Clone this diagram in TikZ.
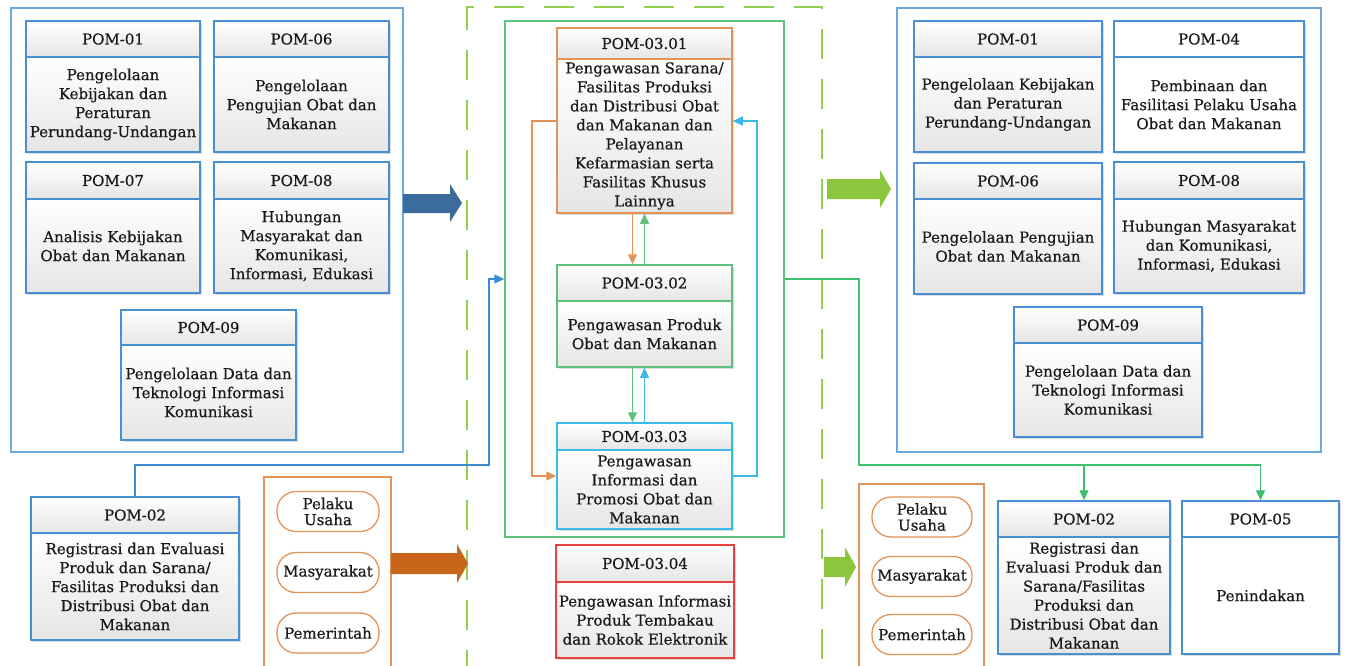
\documentclass[tikz,border=0pt]{standalone}
\usepackage{fontspec}
\setmainfont{DejaVu Serif}[FakeBold=0.5]
\usetikzlibrary{arrows.meta,fit,calc}

\definecolor{cblue}{HTML}{4A8FD3}
\definecolor{oblue}{HTML}{6FA8DC}
\definecolor{cgreen}{HTML}{5CC27E}
\definecolor{corange}{HTML}{E39358}
\definecolor{csky}{HTML}{3DB8EA}
\definecolor{cred}{HTML}{EA4040}
\definecolor{arrblue}{HTML}{3B6C9C}
\definecolor{arrorange}{HTML}{C8651B}
\definecolor{arrgreen}{HTML}{8CC63F}
\definecolor{dashgreen}{HTML}{92D050}
\definecolor{linkblue}{HTML}{3C8BD0}
\definecolor{linkgreen}{HTML}{3DBE6A}

\tikzset{
  frame/.style={inner sep=0pt, line width=1.5pt},
  ttl/.style={font=\fontsize{15}{18}\selectfont, inner sep=0pt, text=black!90},
  bdy/.style={font=\fontsize{15}{19}\selectfont, align=center, inner sep=0pt, text=black!90},
  pill/.style={draw=corange, line width=1.3pt, rounded corners=19pt, fill=white,
    minimum height=40pt, inner sep=0pt, align=center, text=black!90,
    font=\fontsize{15}{18}\selectfont},
  link/.style={line width=1.4pt},
  tipd/.style={-{Triangle[length=10pt,width=9pt]}}
}

% bottom colour of the card gradient
\def\cardbot{black!10}

% \card{name}{x1}{y1}{x2}{y2}{header line y}{colour}{title}{body}
\newcommand{\card}[9]{%
  \fill[black!14] ({#2+2},{#3+2}) rectangle ({#4+2},{#5+2});
  \shade[top color=white,bottom color=\cardbot] (#2,#3) rectangle (#4,#6);
  \shade[top color=white,bottom color=\cardbot] (#2,#6) rectangle (#4,#5);
  \node[frame, draw=#7, fit={(#2,#3)(#4,#5)}] (#1) {};
  \draw[#7, line width=1.5pt] (#2,#6) -- (#4,#6);
  \node[ttl] at ({(#2+#4)/2},{(#3+#6)/2}) {#8};
  \node[bdy] at ({(#2+#4)/2},{(#6+#5)/2}) {#9};
}

\begin{document}
\begin{tikzpicture}[x=1pt,y=-1pt]
\useasboundingbox (0,0) rectangle (1351,665);
\fill[white] (0,0) rectangle (1351,665);

% dashed frame around the POM-03 column
\draw[dashgreen, line width=2.8pt, dash pattern=on 30pt off 20pt]
  (467,680) -- (467,7) -- (822,7) -- (822,680);

% group frames
\node[frame, draw=oblue, fit={(11,8)(403,452)}] (leftgrp) {};
\node[frame, draw=oblue, fit={(897,8)(1321,452)}] (rightgrp) {};
\node[frame, draw=cgreen, fit={(505,21)(784,537)}] (grnbox) {};
\node[frame, draw=corange, fit={(264,477)(391,690)}] (stakeL) {};
\node[frame, draw=corange, fit={(859,484)(984,690)}] (stakeR) {};

% left group
\card{lp01}{26}{21}{200}{152}{57}{cblue}{POM-01}{Pengelolaan\\Kebijakan dan\\Peraturan\\Perundang-Undangan}
\card{lp06}{214}{21}{389}{152}{57}{cblue}{POM-06}{Pengelolaan\\Pengujian Obat dan\\Makanan}
\card{lp07}{26}{162}{200}{293}{199}{cblue}{POM-07}{Analisis Kebijakan\\Obat dan Makanan}
\card{lp08}{214}{162}{389}{293}{199}{cblue}{POM-08}{Hubungan\\Masyarakat dan\\Komunikasi,\\Informasi, Edukasi}
\card{lp09}{121}{310}{296}{440}{345}{cblue}{POM-09}{Pengelolaan Data dan\\Teknologi Informasi\\Komunikasi}
\card{lp02}{31}{497}{239}{640}{533}{cblue}{POM-02}{Registrasi dan Evaluasi\\Produk dan Sarana/\\Fasilitas Produksi dan\\Distribusi Obat dan\\Makanan}

% POM-03 column
\card{p301}{557}{28}{732}{213}{59}{corange}{POM-03.01}{Pengawasan Sarana/\\Fasilitas Produksi\\dan Distribusi Obat\\dan Makanan dan\\Pelayanan\\Kefarmasian serta\\Fasilitas Khusus\\Lainnya}
\card{p302}{557}{265}{732}{367}{301}{cgreen}{POM-03.02}{Pengawasan Produk\\Obat dan Makanan}
\card{p303}{557}{423}{732}{529}{450}{csky}{POM-03.03}{Pengawasan\\Informasi dan\\Promosi Obat dan\\Makanan}
\card{p304}{556}{545}{734}{658}{582}{cred}{POM-03.04}{Pengawasan Informasi\\Produk Tembakau\\dan Rokok Elektronik}

% right group
\card{rp01}{914}{21}{1102}{152}{57}{cblue}{POM-01}{Pengelolaan Kebijakan\\dan Peraturan\\Perundang-Undangan}
\begingroup\def\cardbot{white}
\card{rp04}{1114}{21}{1304}{152}{57}{cblue}{POM-04}{Pembinaan dan\\Fasilitasi Pelaku Usaha\\Obat dan Makanan}
\endgroup
\card{rp06}{914}{163}{1102}{294}{199}{cblue}{POM-06}{Pengelolaan Pengujian\\Obat dan Makanan}
\card{rp08}{1114}{162}{1304}{293}{199}{cblue}{POM-08}{Hubungan Masyarakat\\dan Komunikasi,\\Informasi, Edukasi}
\card{rp09}{1014}{307}{1202}{437}{343}{cblue}{POM-09}{Pengelolaan Data dan\\Teknologi Informasi\\Komunikasi}
\card{rp02}{998}{501}{1170}{654}{537}{cblue}{POM-02}{Registrasi dan\\Evaluasi Produk dan\\Sarana/Fasilitas\\Produksi dan\\Distribusi Obat dan\\Makanan}
\begingroup\def\cardbot{white}
\card{rp05}{1182}{501}{1339}{654}{537}{cblue}{POM-05}{Penindakan}
\endgroup

% stakeholders
\node[pill, minimum width=102pt] (pu1) at (328,511.5) {Pelaku\\[-2pt]Usaha};
\node[pill, minimum width=102pt] (ms1) at (328,572.5) {Masyarakat};
\node[pill, minimum width=102pt] (pm1) at (328,633) {Pemerintah};
\node[pill, minimum width=100pt] (pu2) at (922,517) {Pelaku\\[-2pt]Usaha};
\node[pill, minimum width=100pt] (ms2) at (922,576.5) {Masyarakat};
\node[pill, minimum width=100pt] (pm2) at (922,634.5) {Pemerintah};

% block arrows
\fill[arrblue] (403,194) -- (450,194) -- (450,184) -- (462,203) -- (450,222) -- (450,213) -- (403,213) -- cycle;
\fill[arrorange] (391,553) -- (457,553) -- (457,544) -- (468,563.5) -- (457,583) -- (457,574) -- (391,574) -- cycle;
\fill[arrgreen] (827,179) -- (880,179) -- (880,170) -- (891,189) -- (880,208) -- (880,199) -- (827,199) -- cycle;
\fill[arrgreen] (824,557) -- (845,557) -- (845,547) -- (856,567) -- (845,587) -- (845,577) -- (824,577) -- cycle;

% links inside the POM-03 column
\draw[link, tipd, corange] ([xshift=-12pt]p301.south) -- ([xshift=-12pt]p302.north);
\draw[link, tipd, cgreen] (p302.north) -- (p301.south);
\draw[link, tipd, cgreen] ([xshift=-12pt]p302.south) -- ([xshift=-12pt]p303.north);
\draw[link, tipd, csky] (p303.north) -- (p302.south);

\coordinate (oTop) at (532,121);
\coordinate (oBot) at (532,476);
\draw[link, tipd, corange] (p301.west |- oTop) -- (oTop) -- (oBot) -- (p303.west |- oBot);
\coordinate (bTop) at (757,121);
\coordinate (bBot) at (757,476);
\draw[link, tipd, csky] (p303.east |- bBot) -- (bBot) -- (bTop) -- (p301.east |- bTop);

% POM-02 into the column
\coordinate (lk1) at (489,465);
\coordinate (lk2) at (489,279);
\draw[link, tipd, linkblue] (lp02.north) |- (lk1) -- (lk2) -- (grnbox.west |- lk2);

% column out to POM-02 and POM-05
\coordinate (gk1) at (859,279);
\coordinate (gk2) at (859,465);
\draw[link, linkgreen] (grnbox.east |- gk1) -- (gk1) -- (gk2) -- (rp05.north |- gk2);
\draw[link, tipd, linkgreen] (rp02.north |- gk2) -- (rp02.north);
\draw[link, tipd, linkgreen] (rp05.north |- gk2) -- (rp05.north);
\end{tikzpicture}
\end{document}
